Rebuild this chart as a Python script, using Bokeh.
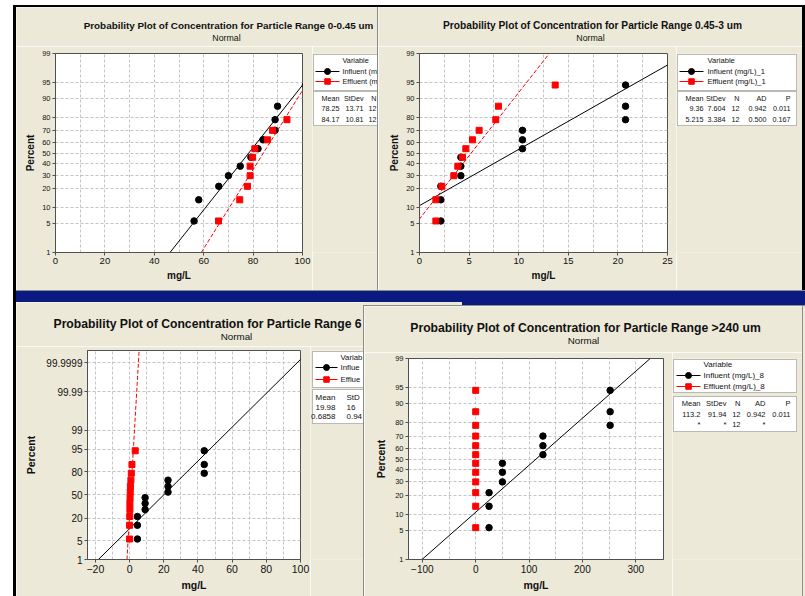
from statistics import NormalDist
from bokeh.plotting import figure
from bokeh.models import FixedTicker, Label, BoxAnnotation, Div, Range1d
from bokeh.layouts import row, column
from bokeh.embed import file_html
from bokeh.resources import INLINE

FONT = "Liberation Sans"
BEIGE = "#ECE9D8"
NAVY = "#0A1A80"
EDGE = "#8C8C8C"
FRAME = "#505050"
GRID = "#C4C4C4"
RED = "#FF0000"

# plotting positions (percent) of the 12 ranked observations
PCT = [5.6, 13.7, 21.8, 29.8, 37.9, 46.0, 54.0, 62.1, 70.2, 78.2, 86.3, 94.4]

# probability-axis ticks
YT_STD = [1, 5, 10, 20, 30, 40, 50, 60, 70, 80, 90, 95, 99]
YL_STD = ["1", "5", "10", "20", "30", "40", "50", "60", "70", "80", "90", "95", "99"]
YT_WIDE = [1, 5, 20, 50, 80, 95, 99, 99.99, 99.9999]
YL_WIDE = ["1", "5", "20", "50", "80", "95", "99", "99.99", "99.9999"]

# Panel 1: 0-0.45 um (window partly hidden behind panel 2)
INF_1 = [56.1, 58.0, 66.1, 70.0, 74.8, 79.1, 82.0, 84.0, 88.9, 88.9, 89.9, 101.2]
EFF_1 = [66.0, 74.6, 77.7, 78.8, 78.8, 79.8, 80.7, 85.8, 87.9, 93.7, 102.0, 104.2]
MEAN_1 = [78.25, 84.17]
SD_1 = [13.71, 10.81]
LEG_1 = ["Variable", "Influent (m", "Effluent (m"]
HEAD_1 = ["Mean", "StDev", "N"]
ROWS_1 = [["78.25", "13.71", "12"], ["84.17", "10.81", "12"]]

# Panel 2: 0.45-3 um
INF_2 = [2.15, 2.15, 2.15, 4.17, 4.17, 4.17, 10.38, 10.38, 10.38, 20.77, 20.77, 20.77]
EFF_2 = [1.65, 1.65, 2.25, 3.46, 3.86, 4.33, 4.67, 5.34, 6.01, 7.69, 7.96, 13.68]
MEAN_2 = [9.36, 5.215]
SD_2 = [7.604, 3.384]
LEG_2 = ["Variable", "Influent (mg/L)_1", "Effluent (mg/L)_1"]
HEAD_2 = ["Mean", "StDev", "N", "AD", "P"]
ROWS_2 = [["9.36", "7.604", "12", "0.942", "0.011"], ["5.215", "3.384", "12", "0.500", "0.167"]]

# Panel 3: title and boxes partly hidden behind panel 4
INF_3 = [4.6, 4.6, 4.6, 9.1, 9.1, 9.1, 22.5, 22.5, 22.5, 43.7, 43.7, 43.7]
EFF_3 = [0.0, 0.0, 0.1, 0.2, 0.2, 0.3, 0.4, 0.5, 0.8, 1.03, 1.4, 3.3]
MEAN_3 = [19.98, 0.6858]
SD_3 = [16.41, 0.9435]
LEG_3 = ["Variab", "Influe", "Efflue"]
HEAD_3 = ["Mean", "StD"]
ROWS_3 = [["19.98", "16"], ["0.6858", "0.94"]]

# Panel 4: >240 um
INF_4 = [25, 25, 25, 50, 50, 50, 126, 126, 126, 252, 252, 252]
EFF_4 = [0, 0, 0, 0, 0, 0, 0, 0, 0, 0, 0, 0]
MEAN_4 = [113.2, None]
SD_4 = [91.94, None]
LEG_4 = ["Variable", "Influent (mg/L)_8", "Effluent (mg/L)_8"]
HEAD_4 = ["Mean", "StDev", "N", "AD", "P"]
ROWS_4 = [["113.2", "91.94", "12", "0.942", "0.011"], ["*", "*", "12", "*", ""]]

ND = NormalDist()


def z(pct):
    return ND.inv_cdf(pct / 100.0)


def px(v):
    return f"{v}px"


def text_at(fig, x, y, text, size, bold=False, align="center", units="data"):
    fig.add_layout(Label(x=x, y=y, x_units=units, y_units=units, text=text,
                         text_font=FONT, text_font_size=px(size),
                         text_font_style="bold" if bold else "normal",
                         text_align=align, text_baseline="middle", text_color="#111111"))


def build(c):
    W, H, th, pw = c["W"], c["H"], c["th"], c["pw"]
    fl, ft, fr, fb = c["frame"]
    ph = H - th
    ylo, yhi = z(1), z(c["ytop"])

    # ---- title strip (frame = whole canvas, screen units from bottom-left)
    tfig = figure(width=W, height=th, x_axis_type=None, y_axis_type=None, min_border=0,
                  output_backend="svg", toolbar_location=None, outline_line_color=None,
                  background_fill_color=BEIGE, border_fill_color=BEIGE)
    ta, tx, ty, tsz = c["title_pos"]
    text_at(tfig, tx, th - ty, c["title"], tsz, bold=True, align=ta, units="screen")
    nx, ny, nsz = c["normal_pos"]
    text_at(tfig, nx, th - ny, "Normal", nsz, units="screen")

    # ---- probability plot
    p = figure(width=pw, height=ph, x_range=c["xr"], y_range=(ylo, yhi),
               output_backend="svg", toolbar_location=None,
               min_border_left=fl, min_border_right=pw - fr,
               min_border_top=ft - th, min_border_bottom=H - fb,
               background_fill_color="white", border_fill_color=BEIGE,
               outline_line_color=FRAME, outline_line_width=1)
    yt = [z(t) for t in c["yt"]]
    p.yaxis.ticker = FixedTicker(ticks=yt)
    p.yaxis.major_label_overrides = {v: s for v, s in zip(yt, c["yl"])}
    p.xaxis.ticker = FixedTicker(ticks=c["xt"])
    p.xgrid.ticker = FixedTicker(ticks=c["xg"])
    p.ygrid.ticker = FixedTicker(ticks=yt)
    p.grid.grid_line_color = GRID
    p.grid.grid_line_dash = "3 2"
    p.grid.grid_line_width = 1
    for ax in (p.xaxis, p.yaxis):
        ax.axis_line_color = FRAME
        ax.major_tick_line_color = FRAME
        ax.major_tick_out = 3
        ax.major_tick_in = 0
        ax.minor_tick_line_color = None
        ax.major_label_text_font = FONT
        ax.major_label_text_color = "#111111"
        ax.major_label_standoff = 2
        ax.axis_label_text_font = FONT
        ax.axis_label_text_font_style = "bold"
        ax.axis_label_text_color = "#111111"
        ax.axis_label_text_font_size = px(c["axlab"])
    p.xaxis.major_label_text_font_size = px(c["xtick"])
    p.yaxis.major_label_text_font_size = px(c["ytick"])
    p.xaxis.axis_label = "mg/L"
    p.yaxis.axis_label = "Percent"
    p.xaxis.axis_label_standoff = c["xstand"]
    p.yaxis.axis_label_standoff = c["ystand"]

    ys = [z(q) for q in PCT]
    (mi, me), (si, se) = c["mean"], c["sd"]
    p.line(x=[mi + si * ylo, mi + si * yhi], y=[ylo, yhi], line_color="black", line_width=1)
    p.scatter(x=c["inf"], y=ys, marker="circle", size=6.5, fill_color="black", line_color="black")
    if me is not None:
        p.line(x=[me + se * ylo, me + se * yhi], y=[ylo, yhi], line_color=RED, line_width=1,
               line_dash="4 2")
    p.scatter(x=c["eff"], y=ys, marker="square", size=6, fill_color=RED, line_color=RED)

    # ---- legend / statistics side area: its frame lines up with the plot frame,
    # ranges are the window's pixel coordinates (y downwards)
    sw = W - pw
    s = figure(width=sw, height=ph, x_range=Range1d(pw, W), y_range=Range1d(fb, ft),
               x_axis_type=None, y_axis_type=None,
               min_border_left=0, min_border_right=0,
               min_border_top=ft - th, min_border_bottom=H - fb,
               output_backend="svg", toolbar_location=None, outline_line_color=None,
               background_fill_color=BEIGE, border_fill_color=BEIGE)

    def box(x0, y0, w, h):
        s.add_layout(BoxAnnotation(left=x0, right=x0 + w, top=y0, bottom=y0 + h,
                                   fill_color="white", fill_alpha=1, level="underlay",
                                   line_color="#333333", line_width=1))

    lx, ly, lw, lh = c["legbox"]
    box(lx, ly, lw, lh)
    (dy_t, dy1, dy2), (gx0, gx1, gtx) = c["leg_rows"], c["leg_cols"]
    lf = c["legf"]
    text_at(s, lx + gtx, ly + dy_t, c["leg"][0], lf, align="left")
    for dy, txt, col, mk, sz in ((dy1, c["leg"][1], "black", "circle", 6),
                                  (dy2, c["leg"][2], RED, "square", 5.5)):
        s.line(x=[lx + gx0, lx + gx1], y=[ly + dy, ly + dy], line_color=col, line_width=1)
        s.scatter(x=[lx + (gx0 + gx1) / 2], y=[ly + dy], marker=mk, size=sz,
                  fill_color=col, line_color=col)
        text_at(s, lx + gtx, ly + dy, txt, lf, align="left")

    bx, by, bw, bh = c["statbox"]
    box(bx, by, bw, bh)
    rows_y = c["rows_y"]
    for j, head in enumerate(c["head"]):
        cx, al = c["cols"][j]
        text_at(s, bx + cx, rows_y[0], head, c["statf"], align=al)
        for k, rw in enumerate(c["rows"]):
            if rw[j]:
                text_at(s, bx + cx, rows_y[k + 1], rw[j], c["statf"], align=al)
    return column(tfig, row(p, s))


R = "right"
w1 = build(dict(W=361, H=283, th=39, pw=296, frame=(39, 46, 286, 245), xr=(0, 100),
                xt=[0, 20, 40, 60, 80, 100], xg=[0, 10, 20, 30, 40, 50, 60, 70, 80, 90, 100],
                yt=YT_STD, yl=YL_STD, ytop=99,
                axlab=10, xtick=9.5, ytick=7.5, xstand=3, ystand=3,
                mean=MEAN_1, sd=SD_1, inf=INF_1, eff=EFF_1,
                title="Probability Plot of Concentration for Particle Range 0-0.45 um",
                title_pos=("center", 212, 18, 9.9), normal_pos=(210, 30, 8.8),
                leg=LEG_1, legbox=(297, 47, 119, 36), legf=7.3,
                leg_rows=(6, 17, 27), leg_cols=(2, 26, 29),
                statbox=(297, 84, 119, 34), head=HEAD_1, rows=ROWS_1,
                cols=[(26, R), (50, R), (63, R)], rows_y=[91, 101, 111.5], statf=7.2))

w2 = build(dict(W=424, H=283, th=39, pw=298, frame=(41, 46, 289, 245), xr=(0, 25),
                xt=[0, 5, 10, 15, 20, 25], xg=[0, 2.5, 5, 7.5, 10, 12.5, 15, 17.5, 20, 22.5, 25],
                yt=YT_STD, yl=YL_STD, ytop=99,
                axlab=10, xtick=9.5, ytick=7.5, xstand=3, ystand=3,
                mean=MEAN_2, sd=SD_2, inf=INF_2, eff=EFF_2,
                title="Probability Plot of Concentration for Particle Range 0.45-3 um",
                title_pos=("center", 214, 18, 10.2), normal_pos=(212, 30, 8.8),
                leg=LEG_2, legbox=(299, 47, 119, 36), legf=7.6,
                leg_rows=(6, 17, 27), leg_cols=(2, 26, 30),
                statbox=(299, 84, 119, 34), head=HEAD_2, rows=ROWS_2,
                cols=[(26, R), (48, R), (62, R), (89, R), (113, R)],
                rows_y=[91, 101, 111.5], statf=7.2))

w3 = build(dict(W=347, H=294, th=44, pw=294, frame=(71, 48, 284, 257), xr=(-24.6, 100),
                xt=[-20, 0, 20, 40, 60, 80, 100],
                xg=[-20, -10, 0, 10, 20, 30, 40, 50, 60, 70, 80, 90, 100],
                yt=YT_WIDE, yl=YL_WIDE, ytop=99.99999,
                axlab=10.5, xtick=10.5, ytick=10, xstand=3, ystand=6,
                mean=MEAN_3, sd=SD_3, inf=INF_3, eff=EFF_3,
                title="Probability Plot of Concentration for Particle Range 6",
                title_pos=("left", 37, 21, 12.2), normal_pos=(220, 34, 9.8),
                leg=LEG_3, legbox=(296, 49, 125, 36), legf=7.8,
                leg_rows=(6, 16, 28), leg_cols=(3, 25, 28),
                statbox=(296, 87, 125, 34), head=HEAD_3, rows=ROWS_3,
                cols=[(23, R), (34, "left")], rows_y=[95, 105, 114], statf=8.0))

w4 = build(dict(W=438, H=290, th=46, pw=308, frame=(44, 52, 299, 253), xr=(-126, 352),
                xt=[-100, 0, 100, 200, 300], xg=[-100, -50, 0, 50, 100, 150, 200, 250, 300],
                yt=YT_STD, yl=YL_STD, ytop=99,
                axlab=10.5, xtick=10, ytick=7.5, xstand=3, ystand=5,
                mean=MEAN_4, sd=SD_4, inf=INF_4, eff=EFF_4,
                title="Probability Plot of Concentration for Particle Range >240 um",
                title_pos=("center", 221, 21, 12.2), normal_pos=(219, 34, 9.8),
                leg=LEG_4, legbox=(309, 53, 123, 33), legf=8,
                leg_rows=(5, 16, 27), leg_cols=(3, 27, 30),
                statbox=(309, 90, 123, 35), head=HEAD_4, rows=ROWS_4,
                cols=[(27, R), (53, R), (67, R), (92, R), (117, R)],
                rows_y=[97, 108, 118], statf=7.5))


def block(w, h, color):
    return Div(text="", width=w, height=h, margin=0, styles={"background-color": color})


rA = block(805, 5, "white")
rB = row(block(13, 2, "white"), block(792, 2, "black"))
rC = row(block(13, 283, "white"), block(3, 283, "black"), w1, block(1, 283, EDGE), w2,
         block(3, 283, "black"))
rD = row(block(13, 1, "white"), block(3, 1, "black"), block(789, 1, EDGE))
rE = row(block(13, 11, "white"), block(3, 11, "black"), block(789, 11, NAVY))
br = column(row(block(99, 3, BEIGE), block(343, 3, NAVY)), block(442, 1, EDGE),
            row(block(1, 290, EDGE), w4, block(1, 290, EDGE), block(2, 290, BEIGE)))
rF = row(block(13, 294, "white"), block(3, 294, "black"), w3, br)
p = column(rA, rB, rC, rD, rE, rF)

open("out.html", "w").write(file_html(p, INLINE))
